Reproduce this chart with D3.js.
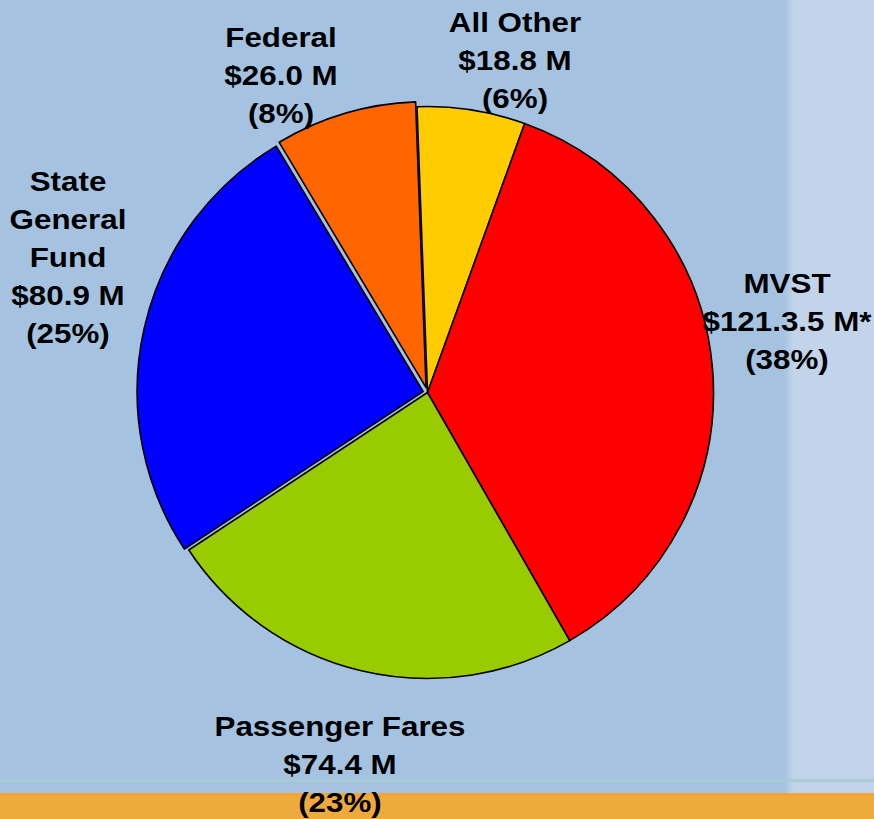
<!DOCTYPE html>
<html>
<head>
<meta charset="utf-8">
<script src="https://cdn.jsdelivr.net/npm/d3@7"></script>
<style>
  html, body { margin: 0; padding: 0; background: #a5c3e0; }
  svg { display: block; }
</style>
</head>
<body>
<div id="chart"></div>
<script>
// Slice order, clockwise from the top
const categories = ["All Other", "MVST", "Passenger Fares", "State General Fund", "Federal"];
// Slice shares (%) as drawn in the picture
const shares = [6.1, 36.2, 24.0, 25.7, 8.0];
// Label text
const amounts = ["$18.8 M", "$121.3.5 M*", "$74.4 M", "$80.9 M", "$26.0 M"];
const percents = ["(6%)", "(38%)", "(23%)", "(25%)", "(8%)"];
const colors = ["#ffcc00", "#ff0000", "#99cc00", "#0000ff", "#ff6600"];

const width = 874, height = 819;
const cx = 427.5, cy = 392.5, radius = 286;

const svg = d3.select("#chart").append("svg")
    .attr("width", width)
    .attr("height", height);

// background: light blue, paler band on the right, orange strip at the bottom
const defs = svg.append("defs");
const band = defs.append("linearGradient").attr("id", "band")
    .attr("x1", 0).attr("x2", 1).attr("y1", 0).attr("y2", 0);
band.append("stop").attr("offset", "0%").attr("stop-color", "#a5c3e0");
band.append("stop").attr("offset", "100%").attr("stop-color", "#c3d4ea");

svg.append("rect").attr("width", width).attr("height", height).attr("fill", "#a5c3e0");
svg.append("rect").attr("x", 784).attr("width", 10).attr("height", 793).attr("fill", "url(#band)");
svg.append("rect").attr("x", 794).attr("width", width - 794).attr("height", 793).attr("fill", "#c3d4ea");
svg.append("rect").attr("y", 779).attr("width", width).attr("height", 3).attr("fill", "#a9cbd6");
svg.append("rect").attr("y", 793).attr("width", width).attr("height", height - 793).attr("fill", "#eeaa3c");
svg.append("rect").attr("y", 793).attr("width", width).attr("height", 3).attr("fill", "#f4a630");

const start = -2.1 * Math.PI / 180;
const pie = d3.pie().sort(null).value(d => d)
    .startAngle(start).endAngle(start + 2 * Math.PI);
const arc = d3.arc().innerRadius(0).outerRadius(radius);
const arcs = pie(shares);

// exploded slices (State General Fund and Federal)
const explode = [0, 0, 0, 4.5, 5];

const g = svg.append("g").attr("transform", `translate(${cx},${cy})`);
g.selectAll("path")
    .data(arcs)
    .enter().append("path")
    .attr("d", arc)
    .attr("fill", (d, i) => colors[i])
    .attr("stroke", "#000")
    .attr("stroke-width", 1.6)
    .attr("stroke-linejoin", "round")
    .attr("transform", (d, i) => {
        const a = (d.startAngle + d.endAngle) / 2;
        return `translate(${Math.sin(a) * explode[i]},${-Math.cos(a) * explode[i]})`;
    });

// labels: [x center, first baseline, lines]
const labels = [
    { x: 515, y: 32, lines: ["All Other", amounts[0], percents[0]] },
    { x: 787, y: 293, lines: ["MVST", amounts[1], percents[1]] },
    { x: 340, y: 736, lines: ["Passenger Fares", amounts[2], percents[2]] },
    { x: 68, y: 191, lines: ["State", "General", "Fund", amounts[3], percents[3]] },
    { x: 281, y: 47, lines: ["Federal", amounts[4], percents[4]] }
];

const lab = svg.append("g").selectAll("g")
    .data(labels)
    .enter().append("g")
    .attr("transform", d => `translate(${d.x},${d.y}) scale(1.12,1)`);

lab.each(function(d) {
    const t = d3.select(this).append("text")
        .attr("text-anchor", "middle")
        .attr("font-family", "Liberation Sans, Arial, sans-serif")
        .attr("font-weight", "bold")
        .attr("font-size", 28)
        .attr("fill", "#000");
    d.lines.forEach((line, i) => {
        t.append("tspan").attr("x", 0).attr("y", i * 38).text(line);
    });
});
</script>
</body>
</html>
